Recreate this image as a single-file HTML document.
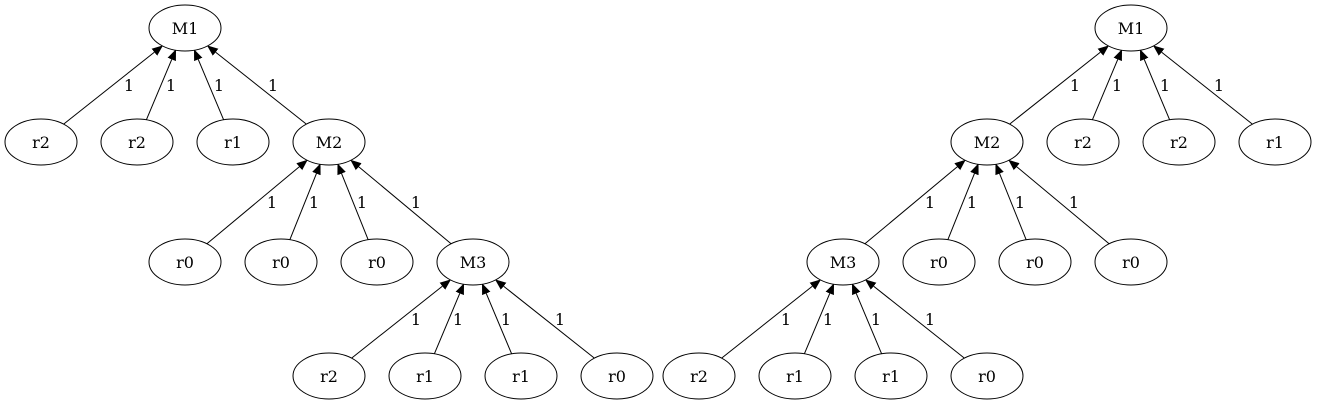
<!DOCTYPE html>
<html><head><meta charset="utf-8"><style>
html,body{margin:0;padding:0;background:#fff;}
svg{display:block;}
text{font-family:"DejaVu Serif","Liberation Serif",serif;font-size:16px;fill:#000;}
</style></head><body>
<svg width="1318" height="407" viewBox="0 0 1318 407" xmlns="http://www.w3.org/2000/svg">
<defs>
<marker id="a" markerUnits="userSpaceOnUse" markerWidth="12" markerHeight="10" refX="11" refY="5" orient="auto">
<path d="M0,0.5 L11,5 L0,9.5 Z" fill="#000"/>
</marker>
</defs>
<g stroke="#000" stroke-width="1" marker-end="url(#a)">
<line x1="63" y1="124.6" x2="163" y2="45.4"/>
<line x1="146" y1="120.7" x2="176" y2="49.3"/>
<line x1="224" y1="120.7" x2="194" y2="49.3"/>
<line x1="307" y1="124.6" x2="207" y2="45.4"/>
<line x1="206.3" y1="244.3" x2="307.7" y2="159.7"/>
<line x1="289.5" y1="240.6" x2="320.5" y2="163.4"/>
<line x1="368.5" y1="240.6" x2="337.5" y2="163.4"/>
<line x1="451.7" y1="244.3" x2="350.3" y2="159.7"/>
<line x1="351" y1="358.6" x2="451" y2="279.4"/>
<line x1="434" y1="354.7" x2="464" y2="283.3"/>
<line x1="512" y1="354.7" x2="482" y2="283.3"/>
<line x1="595" y1="358.6" x2="495" y2="279.4"/>
<line x1="1009" y1="124.6" x2="1109" y2="45.4"/>
<line x1="1092" y1="120.7" x2="1122" y2="49.3"/>
<line x1="1170" y1="120.7" x2="1140" y2="49.3"/>
<line x1="1253" y1="124.6" x2="1153" y2="45.4"/>
<line x1="864.3" y1="244.3" x2="965.7" y2="159.7"/>
<line x1="947.5" y1="240.6" x2="978.5" y2="163.4"/>
<line x1="1026.5" y1="240.6" x2="995.5" y2="163.4"/>
<line x1="1109.7" y1="244.3" x2="1008.3" y2="159.7"/>
<line x1="721" y1="358.6" x2="821" y2="279.4"/>
<line x1="804" y1="354.7" x2="834" y2="283.3"/>
<line x1="882" y1="354.7" x2="852" y2="283.3"/>
<line x1="965" y1="358.6" x2="865" y2="279.4"/>
</g>
<g fill="#fff" stroke="#000" stroke-width="1">
<ellipse cx="185" cy="28" rx="36" ry="23"/>
<ellipse cx="41" cy="142" rx="36" ry="23"/>
<ellipse cx="137" cy="142" rx="36" ry="23"/>
<ellipse cx="233" cy="142" rx="36" ry="23"/>
<ellipse cx="329" cy="142" rx="36" ry="23"/>
<ellipse cx="185" cy="262" rx="36" ry="23"/>
<ellipse cx="281" cy="262" rx="36" ry="23"/>
<ellipse cx="377" cy="262" rx="36" ry="23"/>
<ellipse cx="473" cy="262" rx="36" ry="23"/>
<ellipse cx="329" cy="376" rx="36" ry="23"/>
<ellipse cx="425" cy="376" rx="36" ry="23"/>
<ellipse cx="521" cy="376" rx="36" ry="23"/>
<ellipse cx="617" cy="376" rx="36" ry="23"/>
<ellipse cx="1131" cy="28" rx="36" ry="23"/>
<ellipse cx="987" cy="142" rx="36" ry="23"/>
<ellipse cx="1083" cy="142" rx="36" ry="23"/>
<ellipse cx="1179" cy="142" rx="36" ry="23"/>
<ellipse cx="1275" cy="142" rx="36" ry="23"/>
<ellipse cx="843" cy="262" rx="36" ry="23"/>
<ellipse cx="939" cy="262" rx="36" ry="23"/>
<ellipse cx="1035" cy="262" rx="36" ry="23"/>
<ellipse cx="1131" cy="262" rx="36" ry="23"/>
<ellipse cx="699" cy="376" rx="36" ry="23"/>
<ellipse cx="795" cy="376" rx="36" ry="23"/>
<ellipse cx="891" cy="376" rx="36" ry="23"/>
<ellipse cx="987" cy="376" rx="36" ry="23"/>
</g>
<g text-anchor="middle">
<text x="185" y="34">M1</text>
<text x="41" y="148">r2</text>
<text x="137" y="148">r2</text>
<text x="233" y="148">r1</text>
<text x="329" y="148">M2</text>
<text x="185" y="268">r0</text>
<text x="281" y="268">r0</text>
<text x="377" y="268">r0</text>
<text x="473" y="268">M3</text>
<text x="329" y="382">r2</text>
<text x="425" y="382">r1</text>
<text x="521" y="382">r1</text>
<text x="617" y="382">r0</text>
<text x="1131" y="34">M1</text>
<text x="987" y="148">M2</text>
<text x="1083" y="148">r2</text>
<text x="1179" y="148">r2</text>
<text x="1275" y="148">r1</text>
<text x="843" y="268">M3</text>
<text x="939" y="268">r0</text>
<text x="1035" y="268">r0</text>
<text x="1131" y="268">r0</text>
<text x="699" y="382">r2</text>
<text x="795" y="382">r1</text>
<text x="891" y="382">r1</text>
<text x="987" y="382">r0</text>
</g>
<g text-anchor="middle">
<text x="129" y="91">1</text><text x="171" y="91">1</text><text x="219" y="91">1</text><text x="273" y="91">1</text>
<text x="272" y="208">1</text><text x="314" y="208">1</text><text x="362" y="208">1</text><text x="416" y="208">1</text>
<text x="416" y="325">1</text><text x="458" y="325">1</text><text x="506" y="325">1</text><text x="560" y="325">1</text>
<text x="1075" y="91">1</text><text x="1117" y="91">1</text><text x="1165" y="91">1</text><text x="1219" y="91">1</text>
<text x="930" y="208">1</text><text x="972" y="208">1</text><text x="1020" y="208">1</text><text x="1074" y="208">1</text>
<text x="786" y="325">1</text><text x="828" y="325">1</text><text x="876" y="325">1</text><text x="930" y="325">1</text>
</g>
</svg>
</body></html>
